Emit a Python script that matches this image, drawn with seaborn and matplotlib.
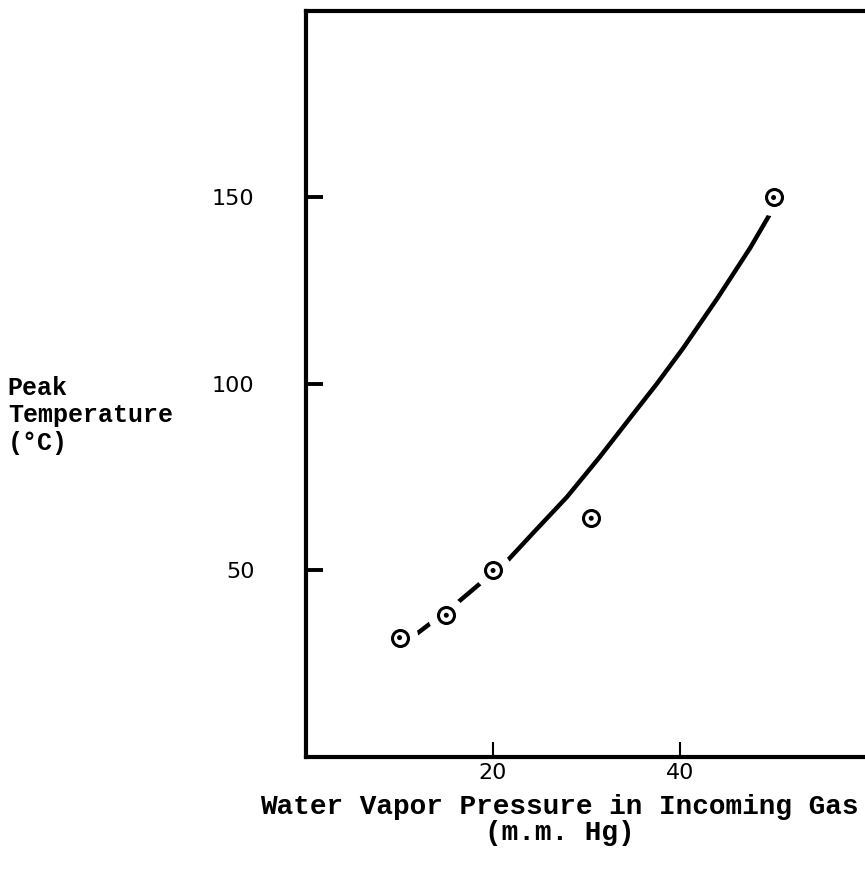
import numpy as np
import pandas as pd
import matplotlib.pyplot as plt
import seaborn as sns

# measured points: water vapor pressure (mm Hg) vs peak temperature (C)
pressure = [10, 15, 20, 30.5, 50]
peak_temp = [32, 38, 50, 64, 150]

# hand-drawn fit curve
curve_x = [11.4, 13.5, 16.3, 18.8, 21.6, 24.3, 27.9, 31.4, 35.0, 37.5, 40.3, 44.0, 47.5, 49.6]
curve_y = [32.2, 36.2, 41.6, 46.9, 52.8, 60.1, 69.7, 80.4, 92.0, 100.0, 109.5, 123.0, 136.5, 145.5]

x_ticks = [20, 40]
y_ticks = [50, 100, 150]

sns.set_style('white')
plt.rcParams['font.family'] = ['DejaVu Sans']

pts = pd.DataFrame({'x': pressure, 'y': peak_temp})
fit = pd.DataFrame({'x': curve_x, 'y': curve_y})

fig = plt.figure(figsize=(8.65, 8.8), dpi=100)
ax = fig.add_axes([0.3538, 0.1398, 0.6486, 0.8477])

sns.lineplot(data=fit, x='x', y='y', color='black', lw=3.2, ax=ax, zorder=2, sort=False,
             solid_joinstyle='round', solid_capstyle='round')
# white halo breaks the curve around each point
sns.scatterplot(data=pts, x='x', y='y', s=27**2, color='white', edgecolor='none', ax=ax, zorder=3)
sns.scatterplot(data=pts, x='x', y='y', s=11.5**2, facecolor='white', edgecolor='black',
                linewidth=2.2, ax=ax, zorder=4)
sns.scatterplot(data=pts, x='x', y='y', s=3.6**2, color='black', edgecolor='none', ax=ax, zorder=5)

ax.set_xlim(0, 60)
ax.set_ylim(0, 200)
ax.set_xticks(x_ticks)
ax.set_yticks(y_ticks)
ax.set_xlabel('')
ax.set_ylabel('')

for side in ['left', 'top', 'bottom']:
    ax.spines[side].set_linewidth(3)
    ax.spines[side].set_color('black')
ax.spines['right'].set_visible(False)

ax.tick_params(axis='y', left=True, direction='in', length=12, width=2.8, pad=37,
               labelsize=16, colors='black')
ax.tick_params(axis='x', bottom=True, direction='in', length=11, width=1.5, pad=4,
               labelsize=16, colors='black')

fig.text(0.009, 0.528, 'Peak\nTemperature\n(°C)', family='Liberation Mono', weight='bold',
         fontsize=18, ha='left', va='center', linespacing=1.2, color='black')
fig.text(0.647, 0.068, 'Water Vapor Pressure in Incoming Gas\n(m.m. Hg)', family='Liberation Mono',
         weight='bold', fontsize=20, ha='center', va='center', linespacing=1.0, color='black')

fig.savefig('out.png', dpi=100)
